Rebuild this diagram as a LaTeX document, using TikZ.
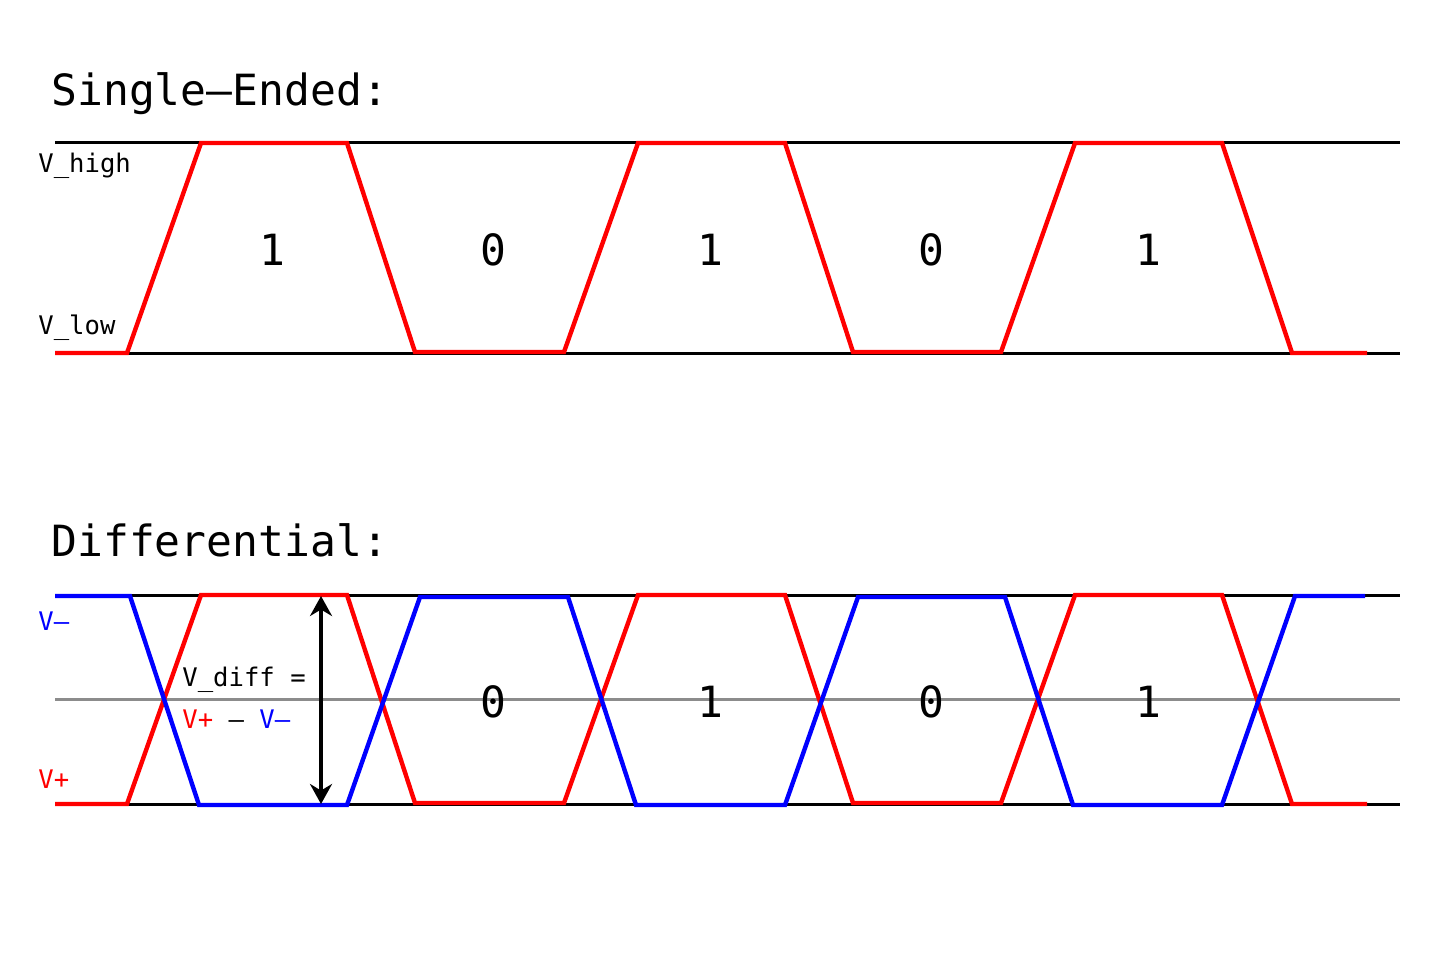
\documentclass[tikz,border=0pt]{standalone}
\usepackage{fontspec}
\newfontfamily\monofont{DejaVu Sans Mono}
\usetikzlibrary{arrows.meta}
\tikzset{
  rail/.style={line width=1.5pt, black},
  mid/.style={line width=1.5pt, gray!90},
  sig/.style={line width=2.2pt, line join=miter},
  big/.style={font=\monofont\fontsize{21.5}{25}\selectfont, inner sep=0pt},
  small/.style={font=\monofont\fontsize{12.8}{15}\selectfont, inner sep=0pt}
}

\begin{document}
\begin{tikzpicture}[x=0.5pt, y=-0.5pt]
\useasboundingbox (0,0) rectangle (1449,960);

% single-ended
\node[big, anchor=base west] (tse) at (51,105) {Single–Ended:};
\draw[rail] (55,142)--(1400,142);
\draw[rail] (55,353)--(1400,353);
\draw[sig, red] (55,353)--(127,353)--(201,143)--(347,143)--(415,352)--(564,352)--(638,143)--(785,143)--(853,352)--(1001,352)--(1075,143)--(1222,143)--(1292,353)--(1367,353);

\node[small, anchor=base west] (vhi) at (38,172) {V\_high};
\node[small, anchor=base west] (vlo) at (38,334) {V\_low};

\foreach \x/\b [count=\i] in {272/1, 493/0, 710/1, 931/0, 1148/1}
  \node[big, anchor=base] (se\i) at (\x,265) {\b};

% differential
\node[big, anchor=base west] (tdf) at (51,556) {Differential:};
\draw[rail] (55,595)--(1400,595);
\draw[rail] (55,804)--(1400,804);
\draw[mid] (55,699)--(1400,699);
\draw[sig, red] (55,804)--(127,804)--(201,595)--(347,595)--(415,803)--(564,803)--(638,595)--(785,595)--(853,803)--(1001,803)--(1075,595)--(1222,595)--(1292,804)--(1367,804);
\draw[sig, blue] (55,596)--(130,596)--(199,805)--(347,805)--(420,597)--(568,597)--(636,805)--(785,805)--(858,597)--(1005,597)--(1073,805)--(1222,805)--(1295,596)--(1365,596);

\node[small, anchor=base west, blue] (vm) at (38,630) {V–};
\node[small, anchor=base west, red] (vp) at (38,788) {V+};

\coordinate (dtop) at (321,596);
\coordinate (dbot) at (321,804);
\draw[line width=2pt, {Stealth[length=10pt, width=11pt]}-{Stealth[length=10pt, width=11pt]}] (dtop)--(dbot);

\node[small, anchor=base west] (vd) at (182,686) {V\_diff =};
\node[small, anchor=base west] (vdd) at (182,728) {\textcolor{red}{V+} – \textcolor{blue}{V–}};

\foreach \x/\b [count=\i] in {493/0, 710/1, 931/0, 1148/1}
  \node[big, anchor=base] (df\i) at (\x,717) {\b};
\end{tikzpicture}
\end{document}
